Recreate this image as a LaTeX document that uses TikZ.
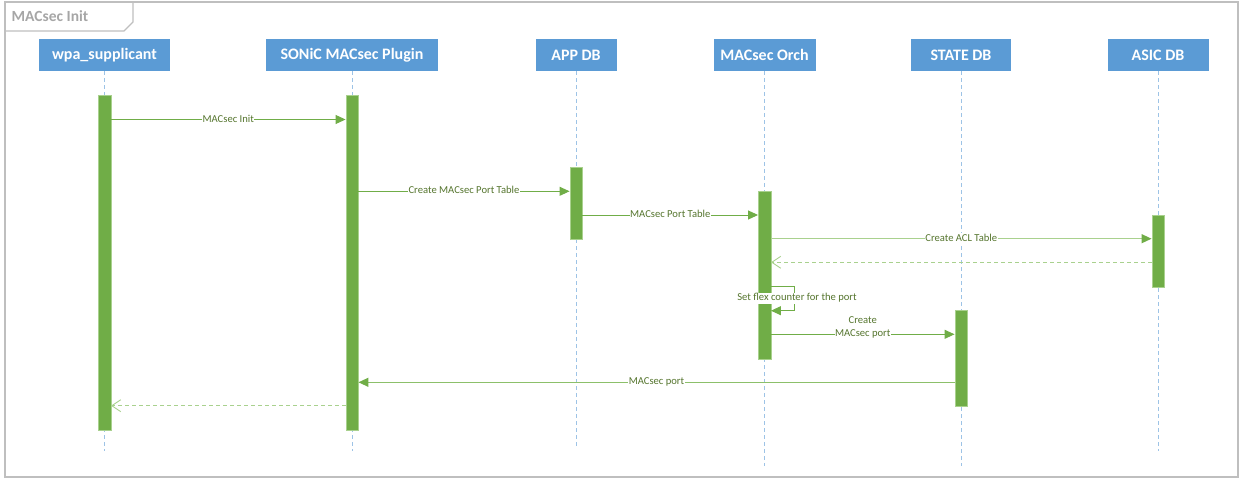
\documentclass[tikz,border=0pt]{standalone}
\usepackage{fontspec}
\setmainfont{Carlito}
\usetikzlibrary{arrows.meta}
\definecolor{hdr}{HTML}{5B9BD5}
\definecolor{bargreen}{HTML}{70AD47}
\definecolor{midgreen}{HTML}{8CC06A}
\definecolor{lightgreen}{HTML}{A9D18E}
\definecolor{lifeblue}{HTML}{9DC3E6}
\definecolor{framegray}{HTML}{BFBFBF}
\definecolor{titlegray}{HTML}{A6A6A6}
\definecolor{lbl}{HTML}{55752E}
\begin{document}
\begin{tikzpicture}[x=1pt,y=-1pt,
  header/.style={fill=hdr, text=white, font=\bfseries\fontsize{16}{19}\selectfont,
    minimum height=32pt, inner sep=0pt},
  actbar/.style={fill=bargreen, draw=lightgreen, line width=0.4pt, minimum width=12.5pt, inner sep=0pt},
  lifeline/.style={draw=lifeblue, line width=0.9pt, dash pattern=on 4pt off 3pt},
  msg/.style={draw=bargreen, line width=1pt, -{Triangle[length=10pt,width=9pt,color=bargreen]}},
  ret/.style={draw=lightgreen, line width=1.1pt, dash pattern=on 4pt off 3pt,
    -{Straight Barb[length=9pt,width=12pt,line width=0.9pt,color=lightgreen]}},
  lab/.style={fill=white, text=lbl, font=\fontsize{10.6}{13.7}\selectfont, inner xsep=0.5pt,
    inner ysep=1pt, text height=7.3pt, text depth=2.2pt, align=center}]
\useasboundingbox (0,0) rectangle (1242,479);
% frame and title tab
\draw[framegray, line width=1.2pt] (5,2) rectangle (1238,477);
\draw[framegray, line width=1.2pt] (133,2) -- (133,22) -- (124,31) -- (5,31);
\node[text=titlegray, font=\bfseries\fontsize{15.5}{18}\selectfont, anchor=west, inner sep=0pt] (title) at (11.5,16.5) {MACsec Init};
% headers
\node[header, minimum width=131pt] (wpa)   at (104.5,55) {wpa\_supplicant};
\node[header, minimum width=172pt] (plug)  at (352,55)   {SONiC MACsec Plugin};
\node[header, minimum width=81pt]  (app)   at (576,55)   {APP DB};
\node[header, minimum width=102pt] (orch)  at (764.5,55) {MACsec Orch};
\node[header, minimum width=100pt] (state) at (961,55)   {STATE DB};
\node[header, minimum width=101pt] (asic)  at (1158,55)  {ASIC DB};
% lifeline ends
\coordinate (wpaend)   at (104.5,451);
\coordinate (plugend)  at (352,451);
\coordinate (append)   at (576,448);
\coordinate (orchend)  at (764.5,466);
\coordinate (stateend) at (961,466);
\coordinate (asicend)  at (1158,451);
\draw[lifeline] (wpa.south) -- (wpaend);
\draw[lifeline] (plug.south) -- (plugend);
\draw[lifeline] (app.south) -- (append);
\draw[lifeline] (orch.south) -- (orchend);
\draw[lifeline] (state.south) -- (stateend);
\draw[lifeline] (asic.south) -- (asicend);
% activation bars
\node[actbar, minimum height=334.5pt] (wpabar)   at (104.5,262.75) {};
\node[actbar, minimum height=334.5pt] (plugbar)  at (352,262.75) {};
\node[actbar, minimum height=72.5pt]  (appbar)   at (576,203.25) {};
\node[actbar, minimum height=167.7pt] (orchbar)  at (764.5,274.85) {};
\node[actbar, minimum height=96.5pt]  (statebar) at (961,358.25) {};
\node[actbar, minimum height=72pt]    (asicbar)  at (1158,251) {};
% message heights
\coordinate (m1) at (0,119.5);
\coordinate (m2) at (0,191.3);
\coordinate (m3) at (0,215);
\coordinate (m4) at (0,238.7);
\coordinate (m5) at (0,262.3);
\coordinate (s1) at (0,286);
\coordinate (s2) at (0,310.7);
\coordinate (m7) at (0,334.3);
\coordinate (m8) at (0,382.3);
\coordinate (m9) at (0,405.7);
\coordinate (loopa) at (794.3,286);
\coordinate (loopb) at (794.3,310.7);
% messages
\draw[msg] (wpabar.east |- m1) -- node[lab] {MACsec Init} (plugbar.west |- m1);
\draw[msg] (plugbar.east |- m2) -- node[lab] {Create MACsec Port Table} (appbar.west |- m2);
\draw[msg] (appbar.east |- m3) -- node[lab] {MACsec Port Table} (orchbar.west |- m3);
\draw[msg, draw=lightgreen, line width=1.3pt] (orchbar.east |- m4) -- node[lab] {Create ACL Table} (asicbar.west |- m4);
\draw[ret] (asicbar.west |- m5) -- (orchbar.east |- m5);
\draw[msg] (orchbar.east |- s1) -- (loopa) -- (loopb) -- (orchbar.east |- s2);
\node[lab] (looplab) at (797,298.3) {Set flex counter for the port};
\draw[msg] (orchbar.east |- m7) -- node[lab] {Create\\MACsec port} (statebar.west |- m7);
\draw[msg, draw=midgreen, line width=1.2pt] (statebar.west |- m8) -- node[lab] {MACsec port} (plugbar.east |- m8);
\draw[ret] (plugbar.west |- m9) -- (wpabar.east |- m9);
\end{tikzpicture}
\end{document}
